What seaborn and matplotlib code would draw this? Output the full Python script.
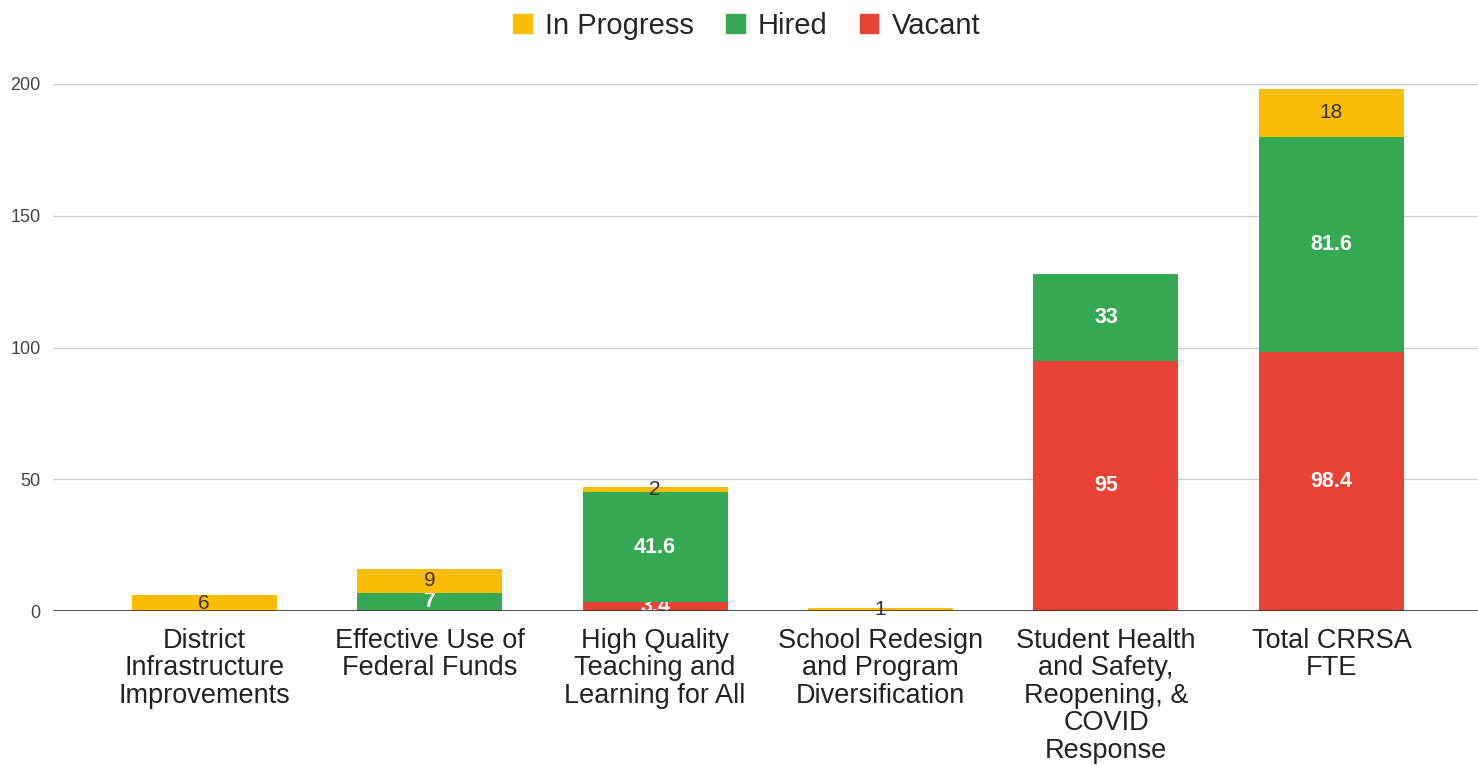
import numpy as np
import pandas as pd
import seaborn as sns
import matplotlib.pyplot as plt
from matplotlib.patches import Patch

# data
categories = [
    "District\nInfrastructure\nImprovements",
    "Effective Use of\nFederal Funds",
    "High Quality\nTeaching and\nLearning for All",
    "School Redesign\nand Program\nDiversification",
    "Student Health\nand Safety,\nReopening, &\nCOVID\nResponse",
    "Total CRRSA\nFTE",
]
vacant = [0, 0, 3.4, 0, 95, 98.4]
hired = [0, 7, 41.6, 0, 33, 81.6]
in_progress = [6, 9, 2, 1, 0, 18]
y_ticks = [0, 50, 100, 150, 200]

colors = {"Vacant": "#EA4335", "Hired": "#34A853", "In Progress": "#FBBC04"}

df = pd.DataFrame({"category": categories, "Vacant": vacant,
                   "Hired": hired, "In Progress": in_progress})

sns.set_style("white")
plt.rcParams["font.family"] = ["Liberation Sans", "DejaVu Sans"]

fig = plt.figure(figsize=(14.78, 7.65), dpi=100)
ax = fig.add_axes([0.0359, 0.2013, 0.9641, 0.6889])

def fmt(v):
    return f"{v:g}" if v else ""

bottom = np.zeros(len(df))
for series in ["Vacant", "Hired", "In Progress"]:
    vals = df[series].to_numpy()
    sns.barplot(data=df, x="category", y=series, color=colors[series],
                width=0.643, bottom=bottom, ax=ax, saturation=1,
                linewidth=0, zorder=3)
    cont = ax.containers[-1]
    if series == "In Progress":
        ax.bar_label(cont, labels=[fmt(v) for v in vals], label_type="center",
                     fontsize=15, color="#333333")
    else:
        ax.bar_label(cont, labels=[fmt(v) for v in vals], label_type="center",
                     fontsize=15.5, color="white", fontweight="bold")
    bottom = bottom + vals

ax.set_xlim(-0.67, 5.65)
ax.set_ylim(0, 200)
ax.set_yticks(y_ticks)
ax.set_xlabel("")
ax.set_ylabel("")
ax.grid(axis="y", color="#cccccc", linewidth=1, zorder=0)
ax.axhline(0, color="#333333", linewidth=1.2, zorder=4)
for s in ax.spines.values():
    s.set_visible(False)
ax.tick_params(axis="y", length=0, pad=9, labelsize=13, labelcolor="#444444")
ax.tick_params(axis="x", length=0, pad=12, labelsize=19.5, labelcolor="#222222")
for lab in ax.get_xticklabels():
    lab.set_linespacing(1.08)

handles = [Patch(color=colors[k]) for k in ["In Progress", "Hired", "Vacant"]]
fig.legend(handles, ["In Progress", "Hired", "Vacant"], loc="center",
           bbox_to_anchor=(0.505, 0.966), ncol=3, frameon=False, fontsize=21,
           handlelength=0.65, handleheight=0.65, handletextpad=0.45,
           columnspacing=1.1)

fig.savefig("out.png", dpi=100)
